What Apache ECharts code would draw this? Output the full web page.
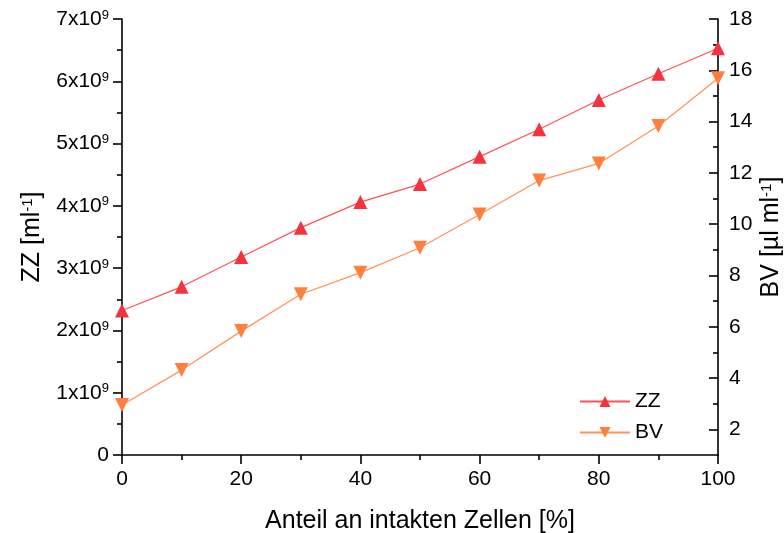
<!DOCTYPE html>
<html>
<head>
<meta charset="utf-8">
<script src="https://cdn.jsdelivr.net/npm/echarts@6/dist/echarts.min.js"></script>
<style>html,body{margin:0;padding:0;background:#fff}#c{width:784px;height:533px}</style>
</head>
<body>
<div id="c"></div>
<script>
const xValues = [0, 10, 20, 30, 40, 50, 60, 70, 80, 90, 100];
const zzValues = [2.32e9, 2.70e9, 3.18e9, 3.65e9, 4.06e9, 4.35e9, 4.79e9, 5.23e9, 5.70e9, 6.12e9, 6.53e9];
const bvValues = [2.95, 4.31, 5.83, 7.27, 8.11, 9.08, 10.38, 11.70, 12.37, 13.83, 15.69];
const rightMajorTicks = [2, 4, 6, 8, 10, 12, 14, 16, 18];
const rightMinorTicks = [3, 5, 7, 9, 11, 13, 15, 17];
const xAxisTitle = 'Anteil an intakten Zellen [%]';
const leftAxisTitle = 'ZZ [ml{sup|-1}]';
const rightAxisTitle = 'BV [µl ml{sup|-1}]';

const FONT = 'Liberation Sans, Arial, sans-serif';
const zzColor = '#F5333F', zzLine = '#FF5058';
const bvColor = '#FF7F3F', bvLine = '#FF9255';
const axisLineStyle = { color: '#000', width: 1.6 };
const supRich = { sup: { fontSize: 13, fontFamily: FONT, color: '#000', verticalAlign: 'top', lineHeight: 10 } };
const titleSupRich = { sup: { fontSize: 15, fontFamily: FONT, color: '#000', verticalAlign: 'top', lineHeight: 14 } };

const chart = echarts.init(document.getElementById('c'), null, { renderer: 'canvas' });
chart.setOption({
  animation: false,
  backgroundColor: '#fff',
  textStyle: { fontFamily: FONT },
  grid: { left: 122, right: 66, top: 19, bottom: 78, containLabel: false, outerBoundsMode: 'none' },
  legend: {
    orient: 'vertical', left: 574, top: 386, itemWidth: 50, itemHeight: 14, itemGap: 10,
    textStyle: { fontSize: 21, color: '#000', fontFamily: FONT },
    data: ['ZZ', 'BV']
  },
  xAxis: {
    type: 'value', min: 0, max: 100, interval: 20,
    name: xAxisTitle, nameLocation: 'middle', nameGap: 54,
    nameTextStyle: { fontSize: 25, color: '#000', fontFamily: FONT },
    axisLine: { show: true, lineStyle: axisLineStyle },
    axisTick: { show: true, length: 9, lineStyle: axisLineStyle },
    minorTick: { show: true, splitNumber: 2, length: 5, lineStyle: axisLineStyle },
    axisLabel: { fontSize: 21, color: '#000', margin: 14, fontFamily: FONT },
    splitLine: { show: false }
  },
  yAxis: [
    {
      type: 'value', min: 0, max: 7e9, interval: 1e9, position: 'left',
      name: leftAxisTitle, nameLocation: 'middle', nameGap: 77, nameRotate: 90,
      nameTextStyle: { fontSize: 25, color: '#000', fontFamily: FONT, rich: titleSupRich },
      axisLine: { show: true, lineStyle: axisLineStyle },
      axisTick: { show: true, length: 9, lineStyle: axisLineStyle },
      minorTick: { show: true, splitNumber: 2, length: 5, lineStyle: axisLineStyle },
      axisLabel: {
        fontSize: 21, color: '#000', margin: 13, fontFamily: FONT,
        formatter: v => v === 0 ? '0' : (Math.round(v / 1e9) + 'x10{sup|9}'),
        rich: supRich
      },
      splitLine: { show: false }
    },
    {
      type: 'value', min: 1, max: 18, position: 'right',
      name: rightAxisTitle, nameLocation: 'middle', nameGap: 41, nameRotate: 90, nameMoveOverlap: false,
      nameTextStyle: { fontSize: 25, color: '#000', fontFamily: FONT, rich: titleSupRich },
      axisLine: { show: true, lineStyle: axisLineStyle },
      axisTick: { show: true, inside: true, length: 9, lineStyle: axisLineStyle, customValues: rightMajorTicks },
      axisLabel: { fontSize: 21, color: '#000', margin: 11, fontFamily: FONT, customValues: rightMajorTicks },
      splitLine: { show: false }
    },
    {
      type: 'value', min: 1, max: 18, position: 'right',
      axisLine: { show: false },
      axisTick: { show: true, inside: true, length: 5, lineStyle: axisLineStyle, customValues: rightMinorTicks },
      axisLabel: { show: false },
      splitLine: { show: false }
    }
  ],
  series: [
    {
      name: 'ZZ', type: 'line', yAxisIndex: 0,
      data: xValues.map((x, i) => [x, zzValues[i]]),
      symbol: 'triangle', symbolSize: 14,
      itemStyle: { color: zzColor },
      lineStyle: { color: zzLine, width: 1.2 },
      clip: false, z: 3
    },
    {
      name: 'BV', type: 'line', yAxisIndex: 1,
      data: xValues.map((x, i) => [x, bvValues[i]]),
      symbol: 'triangle', symbolRotate: 180, symbolSize: 14,
      itemStyle: { color: bvColor },
      lineStyle: { color: bvLine, width: 1.2 },
      clip: false, z: 2
    }
  ]
});
</script>
</body>
</html>
